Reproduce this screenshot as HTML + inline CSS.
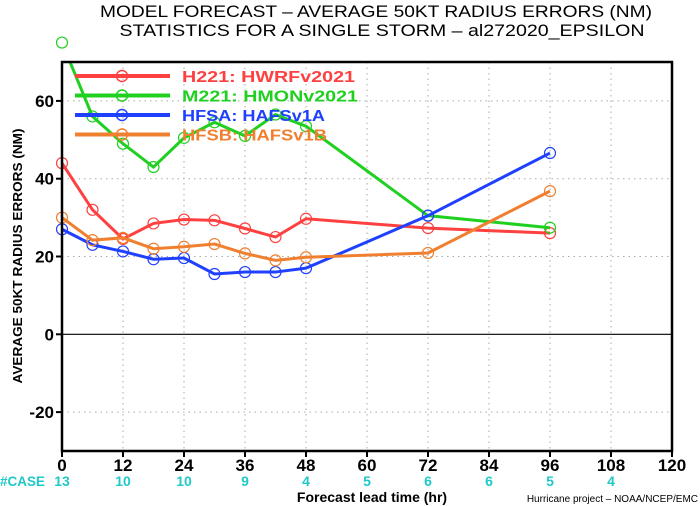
<!DOCTYPE html>
<html><head><meta charset="utf-8"><style>
html,body{margin:0;padding:0;background:#fff;}
svg{display:block;font-family:"Liberation Sans",sans-serif;}
</style></head><body>
<svg id="chart" width="700" height="506" viewBox="0 0 700 506">
<text x="376" y="17" text-anchor="middle" font-size="17" textLength="552" lengthAdjust="spacingAndGlyphs">MODEL FORECAST – AVERAGE 50KT RADIUS ERRORS (NM)</text>
<text x="382" y="36" text-anchor="middle" font-size="17" textLength="525" lengthAdjust="spacingAndGlyphs">STATISTICS FOR A SINGLE STORM – al272020_EPSILON</text>
<g id="grid"></g>
<g id="series"></g>
<rect x="62" y="62" width="610" height="389" fill="none" stroke="#000" stroke-width="2.5"/>
<g id="axes"></g>
<text transform="translate(22,256) rotate(-90)" text-anchor="middle" font-size="13" font-weight="bold" textLength="255" lengthAdjust="spacingAndGlyphs">AVERAGE 50KT RADIUS ERRORS (NM)</text>
<text x="0" y="486" font-size="14" font-weight="bold" fill="#20c8c8" textLength="45" lengthAdjust="spacingAndGlyphs">#CASE</text>
<text x="372" y="502" text-anchor="middle" font-size="14" font-weight="bold">Forecast lead time (hr)</text>
<text x="698" y="502" text-anchor="end" font-size="10">Hurricane project – NOAA/NCEP/EMC</text>
<g id="legend"></g>
</svg>
<script>
const hours=[0,6,12,18,24,30,36,42,48,72,96];
const hwrf=[44,32,24.5,28.5,29.5,29.3,27.2,25,29.7,27.3,26];
const hmon=[75,56,49,43,50.5,54.5,51,56.5,53.5,30.5,27.4];
const hfsa=[27,23,21.3,19.3,19.6,15.5,16,16,17,30.5,46.6];
const hfsb=[30,24.2,24.8,22,22.5,23.2,20.8,19,19.8,20.9,36.8];
const xTicks=[0,12,24,36,48,60,72,84,96,108,120];
const yTicks=[-20,0,20,40,60];
const caseCounts=["13","10","10","9","4","5","6","6","5","4"];
const seriesNames=["H221: HWRFv2021","M221: HMONv2021","HFSA: HAFSv1A","HFSB: HAFSv1B"];
const legendWidths=[173,176,143,145];
const colors=["#ff4040","#20d020","#2040ff","#f08030"];
const X=v=>62+v*610/120, Y=v=>451-(v+30)*3.89;
const NS="http://www.w3.org/2000/svg";
function mk(tag,attrs,parent){const e=document.createElementNS(NS,tag);for(const k in attrs)e.setAttribute(k,attrs[k]);parent.appendChild(e);return e;}
const grid=document.getElementById('grid'),axes=document.getElementById('axes'),ser=document.getElementById('series'),leg=document.getElementById('legend');
xTicks.forEach((t,i)=>{
 if(t>0&&t<120){const l=mk('line',{x1:X(t),x2:X(t),y1:62,y2:451,stroke:'#aaa','stroke-dasharray':'1.5,4'},grid);
 }
 const tk=mk('line',{x1:X(t),x2:X(t),y1:451,y2:457,stroke:'#000','stroke-width':2},axes);
 
 const tx=mk('text',{x:X(t),y:471,'text-anchor':'middle','font-size':17,'font-weight':'bold'},axes);tx.textContent=t;
 
 if(i<caseCounts.length){const c=mk('text',{x:X(t),y:486,'text-anchor':'middle','font-size':14,'font-weight':'bold',fill:'#20c8c8'},axes);c.textContent=caseCounts[i];
 }
});
yTicks.forEach(t=>{
 const l=mk('line',{x1:62,x2:672,y1:Y(t),y2:Y(t),stroke:t==0?'#000':'#aaa','stroke-width':t==0?1.2:1,'stroke-dasharray':t==0?'none':'1.5,4'},grid);
 
 const tk=mk('line',{x1:56,x2:62,y1:Y(t),y2:Y(t),stroke:'#000','stroke-width':2},axes);
 
 const tx=mk('text',{x:54,y:Y(t)+6,'text-anchor':'end','font-size':17,'font-weight':'bold'},axes);tx.textContent=t;
 
});
const cp=mk('clipPath',{id:'clip'},ser);mk('rect',{x:62,y:62,width:610,height:389},cp);
[hwrf,hmon,hfsa,hfsb].forEach((d,si)=>{
 const g=mk('g',{},ser);
 const pl=mk('polyline',{points:d.map((v,i)=>X(hours[i])+','+Y(v)).join(' '),fill:'none',stroke:colors[si],'stroke-width':3,'clip-path':'url(#clip)'},g);
 
 d.forEach((v,i)=>{const c=mk('circle',{cx:X(hours[i]),cy:Y(v),r:5.5,fill:'none',stroke:colors[si],'stroke-width':1.2},g);
 });
});
seriesNames.forEach((n,i)=>{
 const y=76+i*19.5;const g=mk('g',{},leg);
 
 mk('line',{x1:75,x2:170,y1:y,y2:y,stroke:colors[i],'stroke-width':4},g);
 mk('circle',{cx:122,cy:y,r:5.5,fill:'none',stroke:colors[i],'stroke-width':1.5},g);
 const t=mk('text',{x:182,y:y+6,'font-size':16,'font-weight':'bold',fill:colors[i],textLength:legendWidths[i],lengthAdjust:'spacingAndGlyphs'},g);t.textContent=n;
});
</script>
</body></html>
